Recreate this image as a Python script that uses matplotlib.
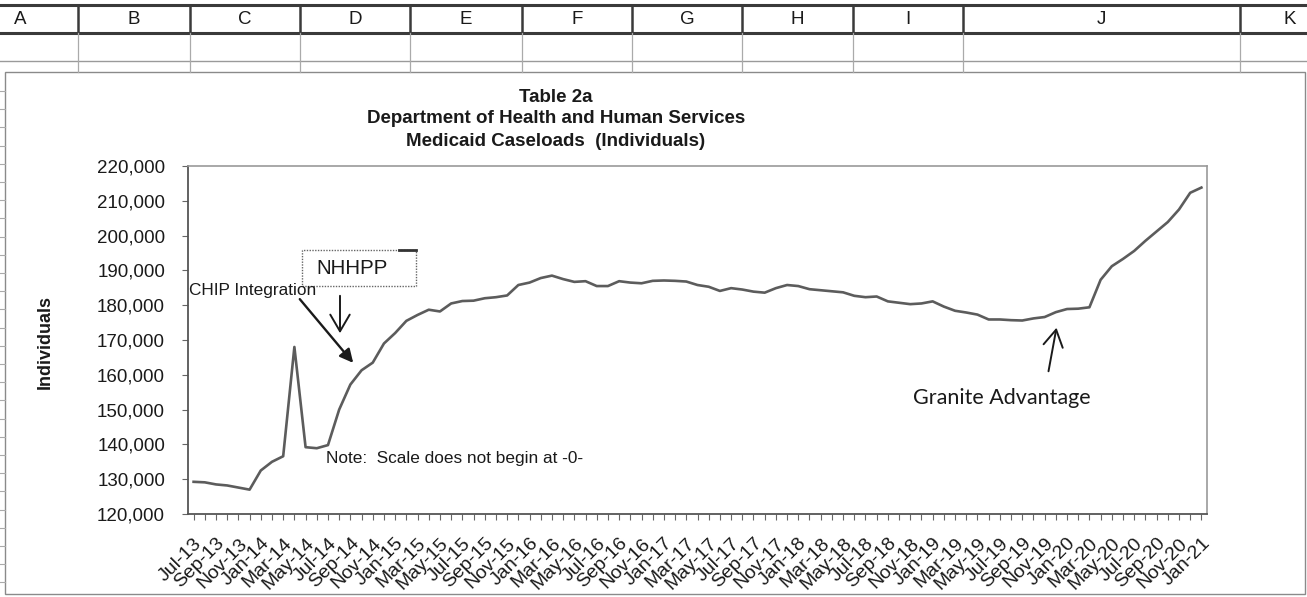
import matplotlib
matplotlib.use("Agg")
import matplotlib.pyplot as plt
from matplotlib.lines import Line2D
from matplotlib.patches import Rectangle, FancyArrowPatch
from matplotlib.ticker import FuncFormatter, MultipleLocator

plt.rcParams['font.family'] = ['Liberation Sans', 'DejaVu Sans']

# ---------------- data ----------------
months = ["Jul", "Aug", "Sep", "Oct", "Nov", "Dec", "Jan", "Feb", "Mar", "Apr", "May", "Jun"]
start_year = 13
n_points = 91
categories = []
for i in range(n_points):
    m = months[i % 12]
    yr = start_year + (i + 6) // 12
    categories.append(f"{m}-{yr:02d}")

caseloads = [
    129250, 129100, 128500, 128200, 127600, 127000, 132500, 135000, 136600, 168000,
    139200, 138900, 139800, 150000, 157200, 161300, 163500, 169000, 172000, 175500,
    177200, 178700, 178200, 180500, 181200, 181300, 182000, 182300, 182800, 185800,
    186500, 187800, 188500, 187500, 186700, 186900, 185500, 185500, 186900, 186500,
    186300, 187000, 187100, 187000, 186800, 185800, 185300, 184100, 184900, 184500,
    183900, 183600, 184900, 185800, 185500, 184600, 184300, 184000, 183700, 182700,
    182300, 182500, 181100, 180700, 180300, 180500, 181100, 179600, 178400, 177900,
    177300, 175900, 175900, 175700, 175600, 176200, 176600, 178000, 178900, 179000,
    179400, 187300, 191200, 193300, 195600, 198500, 201200, 203900, 207500, 212300,
    213800,
]

column_letters = ["A", "B", "C", "D", "E", "F", "G", "H", "I", "J", "K"]
title_lines = ["Table 2a", "Department of Health and Human Services",
               "Medicaid Caseloads  (Individuals)"]

# ---------------- figure ----------------
W, H = 1307, 597
fig = plt.figure(figsize=(W / 100, H / 100), dpi=100)
fig.patch.set_facecolor("white")


def fx(x):
    return x / W


def fy(y):
    return 1 - y / H


# spreadsheet header
col_bounds = [78, 190, 300, 410, 522, 632, 742, 853, 963, 1240]
letter_x = [20, 134, 245, 355, 466, 577, 687, 797, 908, 1101, 1290]
fig.add_artist(Line2D([0, 1], [fy(5), fy(5)], lw=2.2, color="#3a3a3a"))
fig.add_artist(Line2D([0, 1], [fy(33), fy(33)], lw=2.2, color="#3a3a3a"))
fig.add_artist(Line2D([0, 1], [fy(61), fy(61)], lw=1.0, color="#9a9a9a"))
for xb in col_bounds:
    fig.add_artist(Line2D([fx(xb), fx(xb)], [fy(5), fy(33)], lw=1.8, color="#3a3a3a"))
    fig.add_artist(Line2D([fx(xb), fx(xb)], [fy(33), fy(72)], lw=0.9, color="#aaaaaa"))
for lx, lt in zip(letter_x, column_letters):
    fig.text(fx(lx), fy(19), lt, ha="center", va="center", fontsize=13.5, color="#1a1a1a")

# row marks at the far left (behind chart)
yy = 91
while yy < 592:
    fig.add_artist(Line2D([0, fx(5)], [fy(yy), fy(yy)], lw=0.8, color="#aaaaaa"))
    yy += 18.2

# chart border
fig.add_artist(Rectangle((fx(5), fy(594)), fx(1305) - fx(5), fy(72) - fy(594),
                         transform=fig.transFigure, facecolor="white",
                         edgecolor="#8a8a8a", lw=1.0, zorder=0.5))

# titles
for t, ty in zip(title_lines, [97, 119, 141]):
    fig.text(fx(556), fy(ty), t, ha="center", va="center", fontsize=13.5,
             fontweight="bold", color="#1a1a1a")

# ---------------- axes ----------------
ax = fig.add_axes([fx(188), fy(514), (1207 - 188) / W, (514 - 166) / H])
ax.set_zorder(2)
x = list(range(n_points))
ax.plot(x, caseloads, color="#5c5c5c", lw=1.9, solid_joinstyle="round")
ax.set_xlim(-0.5, n_points - 0.5)
ax.set_ylim(120000, 220000)
ax.yaxis.set_major_locator(MultipleLocator(10000))
ax.yaxis.set_major_formatter(FuncFormatter(lambda v, p: f"{int(v):,}"))
ax.set_xticks(x)
ax.set_xticklabels([c if i % 2 == 0 else "" for i, c in enumerate(categories)],
                   rotation=45, ha="right", va="top", rotation_mode="anchor",
                   fontsize=14, color="#1a1a1a")
ax.tick_params(axis="y", labelsize=13.5, labelcolor="#1a1a1a", direction="out",
               length=4, color="#666666", pad=12.5)
ax.tick_params(axis="x", direction="out", length=4, color="#666666", pad=11)
for s in ["top", "right"]:
    ax.spines[s].set_color("#999999")
    ax.spines[s].set_linewidth(1.2)
for s in ["left", "bottom"]:
    ax.spines[s].set_color("#555555")
    ax.spines[s].set_linewidth(1.3)
ax.set_facecolor("white")

fig.text(fx(45), fy(342), "Individuals", rotation=90, ha="center", va="center",
         fontsize=13, fontweight="bold", color="#1a1a1a")

# ---------------- annotations ----------------
fig.text(fx(189), fy(290), "CHIP Integration", ha="left", va="center",
         fontsize=12.4, color="#1a1a1a", zorder=5)
fig.add_artist(FancyArrowPatch((fx(298), fy(297)), (fx(355), fy(365)),
                               transform=fig.transFigure, arrowstyle="-|>",
                               mutation_scale=20, lw=1.7, color="#1a1a1a", zorder=5))

fig.add_artist(Rectangle((fx(302), fy(286)), fx(416) - fx(302), fy(250) - fy(286),
                         transform=fig.transFigure, facecolor="white",
                         edgecolor="#666666", lw=1.0, linestyle=(0, (1, 1)), zorder=4))
fig.add_artist(Line2D([fx(399), fx(416)], [fy(250), fy(250)], lw=2.0, color="#333333", zorder=5))
fig.text(fx(352), fy(269), "NHHPP", ha="center", va="center", fontsize=14.8,
         color="#1a1a1a", zorder=5)
fig.add_artist(FancyArrowPatch((fx(340), fy(293)), (fx(340), fy(336)),
                               transform=fig.transFigure, arrowstyle="->,head_length=0.6,head_width=0.35",
                               mutation_scale=20, lw=1.4, color="#1a1a1a", zorder=5))

fig.text(fx(326), fy(459), "Note:  Scale does not begin at -0-", ha="left", va="center",
         fontsize=12.4, color="#1a1a1a", zorder=5)

fig.text(fx(1002), fy(398), "Granite Advantage", ha="center", va="center",
         fontsize=15.5, color="#1a1a1a", family=["Lato", "DejaVu Sans"], zorder=5)
fig.add_artist(FancyArrowPatch((fx(1048), fy(374)), (fx(1057), fy(325)),
                               transform=fig.transFigure, arrowstyle="->,head_length=0.6,head_width=0.35",
                               mutation_scale=20, lw=1.4, color="#1a1a1a", zorder=5))

fig.savefig("out.png", dpi=100, facecolor="white")
